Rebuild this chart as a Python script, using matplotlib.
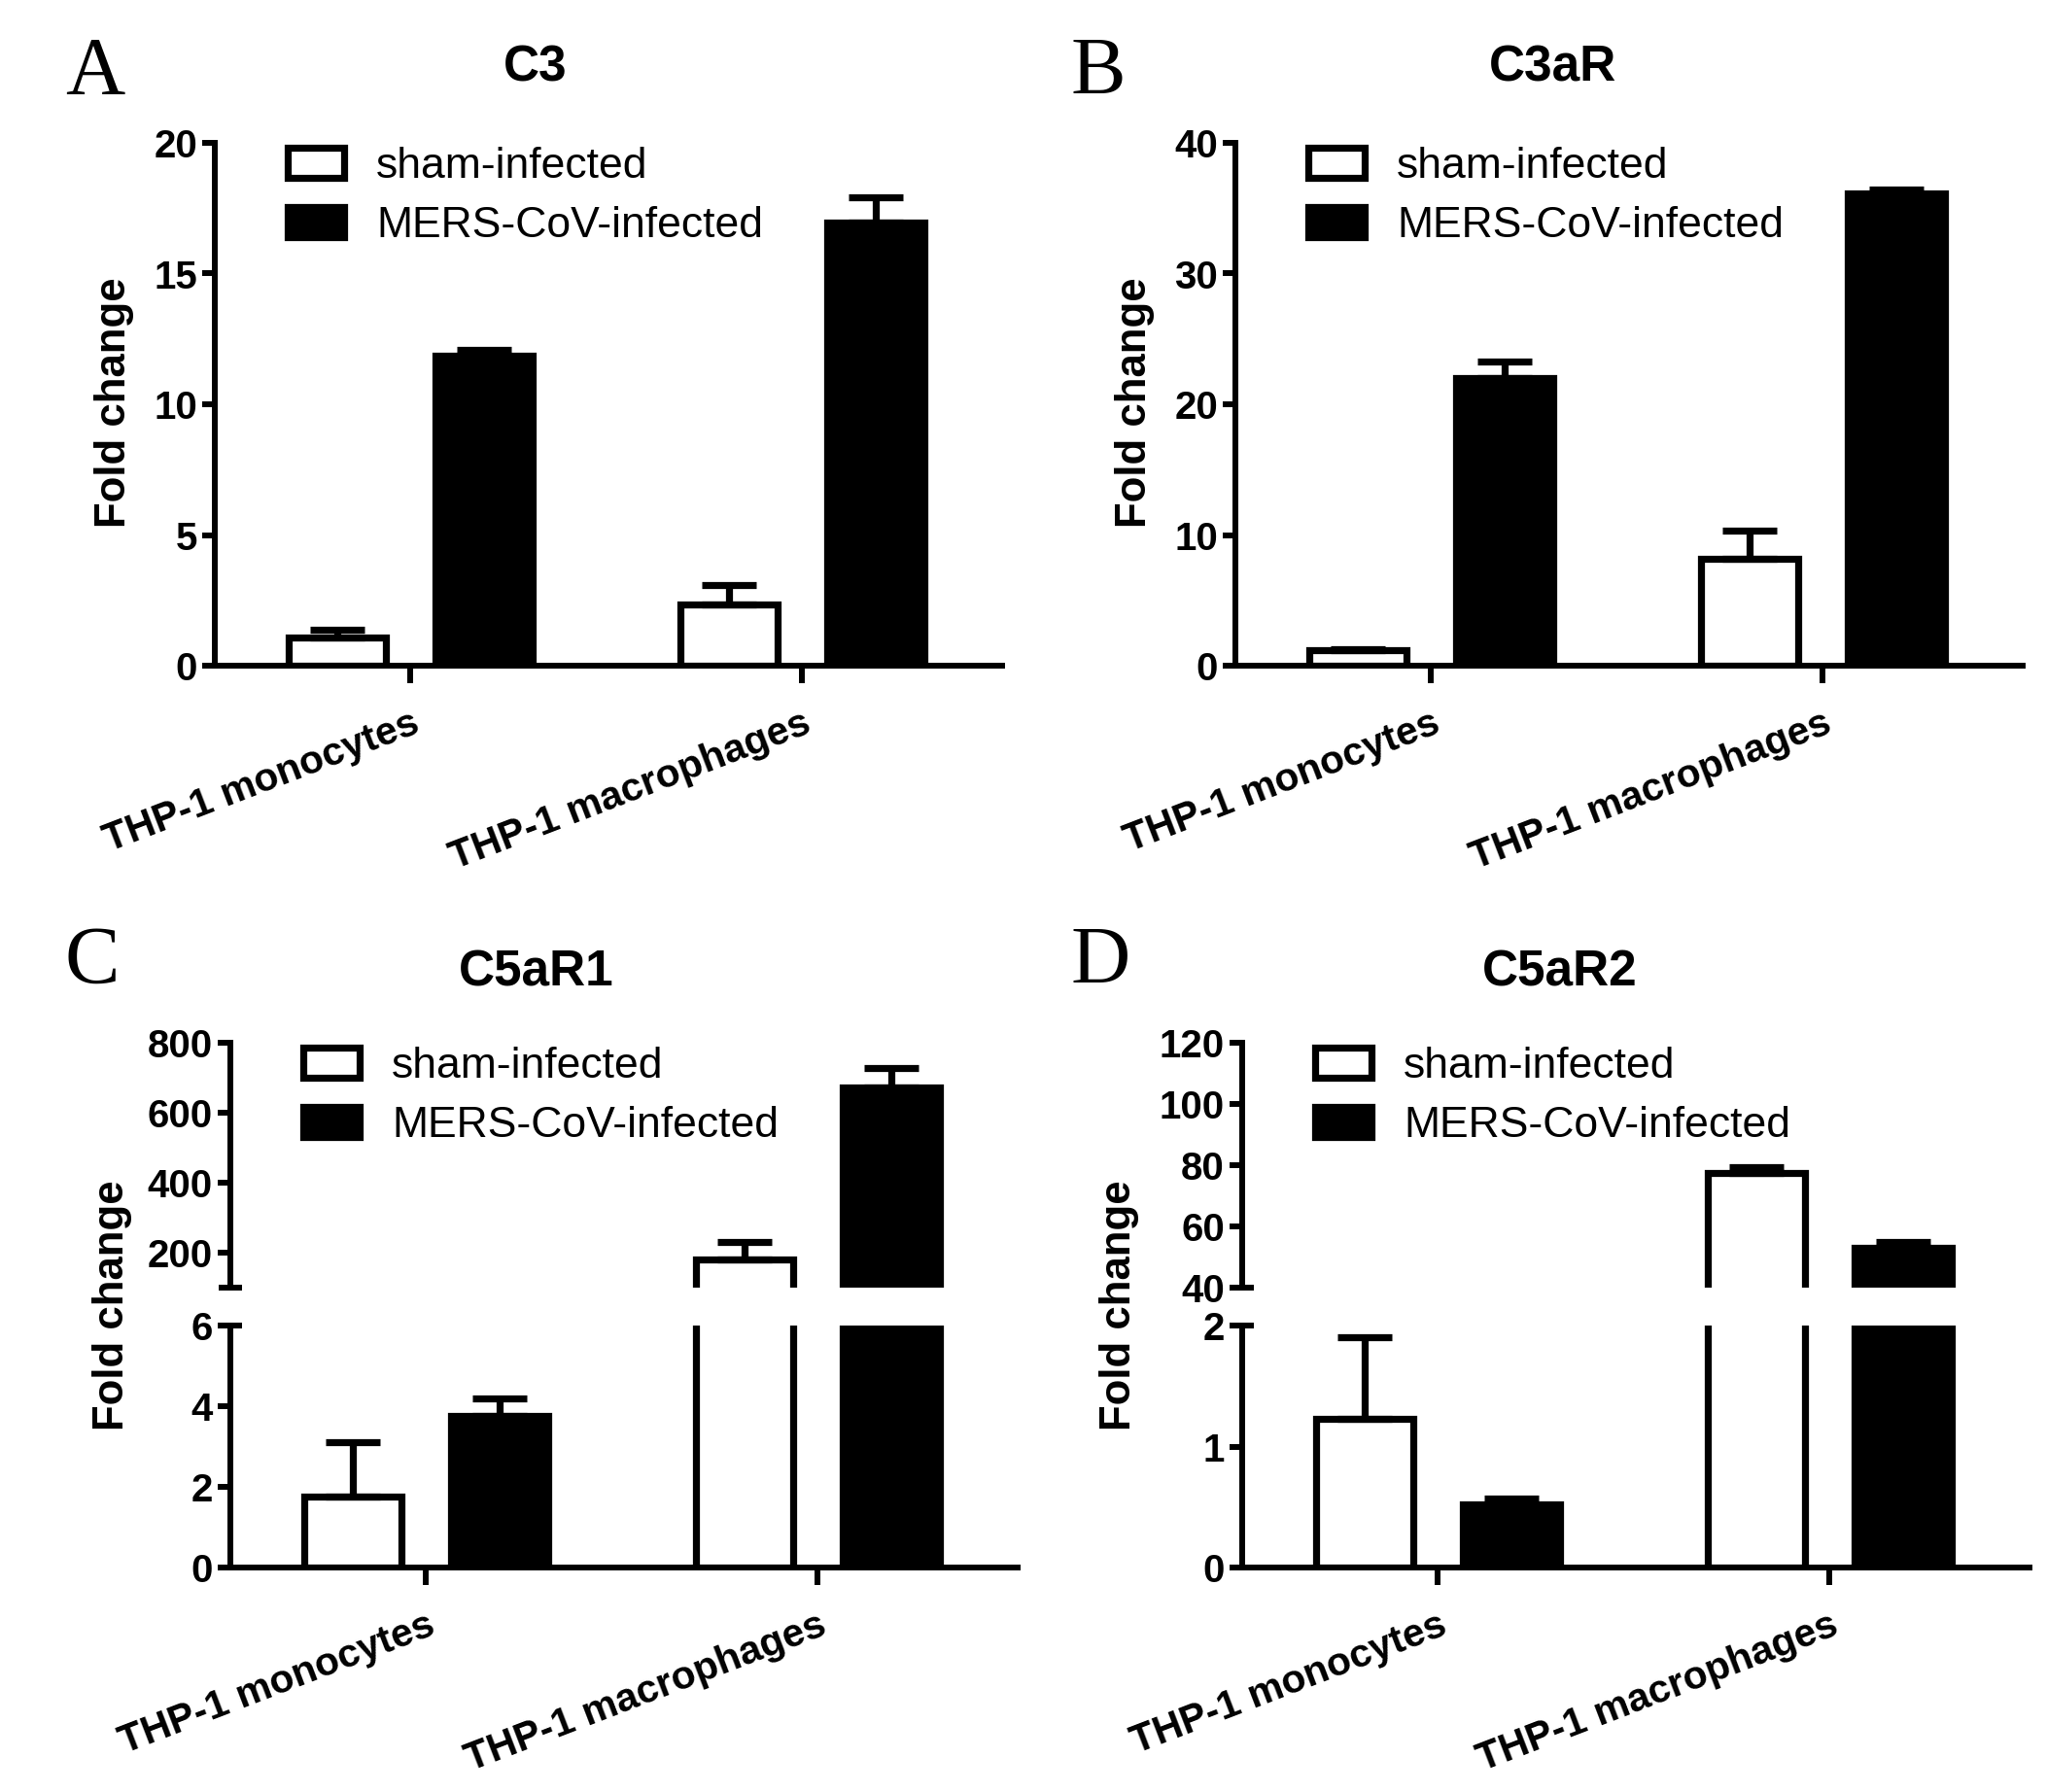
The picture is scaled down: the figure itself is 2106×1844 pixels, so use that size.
import matplotlib
matplotlib.use("Agg")
import matplotlib.pyplot as plt
import numpy as np

plt.rcParams['font.family'] = ['Liberation Sans', 'DejaVu Sans']
plt.rcParams['font.weight'] = 'bold'

# ---------------- data ----------------
categories = ['THP-1 monocytes', 'THP-1 macrophages']
groups = ['sham-infected', 'MERS-CoV-infected']

c3_sham = [1.06, 2.35]
c3_sham_err = [0.30, 0.75]
c3_mers = [11.85, 16.95]
c3_mers_err = [0.25, 0.95]

c3ar_sham = [1.2, 8.2]
c3ar_sham_err = [0.1, 2.1]
c3ar_mers = [22.0, 36.1]
c3ar_mers_err = [1.3, 0.3]

c5ar1_sham = [1.75, 180.0]
c5ar1_sham_err = [1.35, 50.0]
c5ar1_mers = [3.77, 673.0]
c5ar1_mers_err = [0.43, 56.0]

c5ar2_sham = [1.23, 77.4]
c5ar2_sham_err = [0.67, 2.1]
c5ar2_mers = [0.52, 53.0]
c5ar2_mers_err = [0.05, 2.0]

# ---------------- style ----------------
W, H, DPI = 2106, 1844, 100
BAR_LW = 5.2
SPINE_LW = 4.3
WIDTH = 0.25
OFF = 0.1875
CAP = 20.5
XLIM = (-0.5, 1.51)

fig = plt.figure(figsize=(W / DPI, H / DPI), dpi=DPI)


def fx(px):
    return px / W


def fy(py):
    return 1 - py / H


def rect(left, top, bottom, width=810):
    return [fx(left), fy(bottom), width / W, (bottom - top) / H]


def draw(ax, sham, sham_err, mers, mers_err):
    x = np.arange(len(categories))
    n = len(categories)
    h1 = ax.bar(x - OFF, sham, WIDTH, color='white', edgecolor='black',
                linewidth=BAR_LW, zorder=2)
    h2 = ax.bar(x + OFF, mers, WIDTH, color='black', edgecolor='black',
                linewidth=BAR_LW, zorder=2)
    ax.errorbar(x - OFF, sham, yerr=[np.zeros(n), sham_err], fmt='none',
                ecolor='black', elinewidth=BAR_LW, capsize=CAP,
                capthick=BAR_LW, zorder=3)
    ax.errorbar(x + OFF, mers, yerr=[np.zeros(n), mers_err], fmt='none',
                ecolor='black', elinewidth=BAR_LW, capsize=CAP,
                capthick=BAR_LW, zorder=3)
    ax.set_xlim(*XLIM)
    return h1, h2


def style(ax, ylim, yticks, show_bottom=True):
    ax.set_ylim(*ylim)
    ax.set_yticks(yticks)
    ax.spines['top'].set_visible(False)
    ax.spines['right'].set_visible(False)
    ax.spines['left'].set_linewidth(SPINE_LW)
    ax.spines['bottom'].set_linewidth(SPINE_LW)
    ax.tick_params(axis='y', length=9.4, width=SPINE_LW, pad=3.6,
                   labelsize=29)
    if show_bottom:
        ax.set_xticks(np.arange(len(categories)), categories)
        ax.tick_params(axis='x', length=13, width=SPINE_LW, pad=16,
                       labelsize=29.3)
        for lab in ax.get_xticklabels():
            lab.set_rotation(21)
            lab.set_ha('right')
            lab.set_va('top')
            lab.set_rotation_mode('anchor')
    else:
        ax.spines['bottom'].set_visible(False)
        ax.tick_params(axis='x', bottom=False, labelbottom=False)


def legend(ax, handles, yanchor):
    ax.legend(handles, groups, loc='upper left',
              bbox_to_anchor=(0.093, yanchor), frameon=False,
              borderpad=0, borderaxespad=0, handlelength=1.30,
              handleheight=0.686, handletextpad=0.74, labelspacing=0.46,
              prop={'family': 'Liberation Sans', 'weight': 'normal',
                    'size': 32})


def break_cap(ax, at_top):
    x0 = ax.get_xlim()[0]
    y0 = ax.get_ylim()[1] if at_top else ax.get_ylim()[0]
    ax.plot([x0], [y0], marker='_', ms=17, mew=SPINE_LW, color='black',
            clip_on=False, zorder=5)


# ---------------- Panel A ----------------
axA = fig.add_axes(rect(221, 147, 685))
hA = draw(axA, c3_sham, c3_sham_err, c3_mers, c3_mers_err)
style(axA, (0, 20), [0, 5, 10, 15, 20])
legend(axA, hA, 0.993)

# ---------------- Panel B ----------------
axB = fig.add_axes(rect(1271, 147, 685))
hB = draw(axB, c3ar_sham, c3ar_sham_err, c3ar_mers, c3ar_mers_err)
style(axB, (0, 40), [0, 10, 20, 30, 40])
legend(axB, hB, 0.993)

# ---------------- Panel C (broken) ----------------
axCt = fig.add_axes(rect(237, 1073, 1325))
axCb = fig.add_axes(rect(237, 1364, 1613))
hC = draw(axCt, c5ar1_sham, c5ar1_sham_err, c5ar1_mers, c5ar1_mers_err)
draw(axCb, c5ar1_sham, c5ar1_sham_err, c5ar1_mers, c5ar1_mers_err)
style(axCt, (100, 800), [200, 400, 600, 800], show_bottom=False)
style(axCb, (0, 6), [0, 2, 4, 6])
axCb.spines['top'].set_visible(False)
break_cap(axCt, at_top=False)
break_cap(axCb, at_top=True)
legend(axCt, hC, 0.985)

# ---------------- Panel D (broken) ----------------
axDt = fig.add_axes(rect(1278, 1073, 1325))
axDb = fig.add_axes(rect(1278, 1364, 1613))
hD = draw(axDt, c5ar2_sham, c5ar2_sham_err, c5ar2_mers, c5ar2_mers_err)
draw(axDb, c5ar2_sham, c5ar2_sham_err, c5ar2_mers, c5ar2_mers_err)
style(axDt, (40, 120), [40, 60, 80, 100, 120], show_bottom=False)
style(axDb, (0, 2), [0, 1, 2])
axDb.spines['top'].set_visible(False)
break_cap(axDt, at_top=False)
break_cap(axDb, at_top=True)
legend(axDt, hD, 0.985)

# ---------------- texts ----------------
for (xp, yp) in [(138, 414), (1188, 414), (136, 1343), (1172, 1343)]:
    fig.text(fx(xp), fy(yp), 'Fold change', rotation=90, ha='right',
             va='center', fontsize=31.5, fontweight='bold')

titles = ['C3', 'C3aR', 'C5aR1', 'C5aR2']
for t, (xp, yp) in zip(titles, [(551, 84), (1598, 84), (552, 1014), (1605, 1014)]):
    fig.text(fx(xp), fy(yp), t, ha='center', va='baseline', fontsize=37,
             fontweight='bold')

letters = ['A', 'B', 'C', 'D']
for t, (xp, yp) in zip(letters, [(67, 97), (1101, 97), (67, 1012), (1101, 1012)]):
    fig.text(fx(xp), fy(yp), t, ha='left', va='baseline', fontsize=61,
             fontweight='normal', family=['Liberation Serif', 'DejaVu Serif'])

fig.savefig('out.png', dpi=DPI)
